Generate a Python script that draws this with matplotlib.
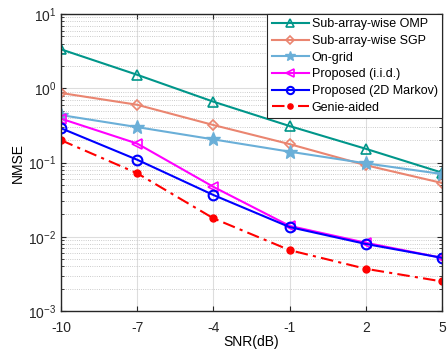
import matplotlib.pyplot as plt
import numpy as np

plt.rcParams.update({"font.family": ["Liberation Sans", "DejaVu Sans"]})
plt.rcParams.update({"font.size": 10})

snr = [-10, -7, -4, -1, 2, 5]
omp = [3.35, 1.52, 0.66, 0.31, 0.153, 0.073]
sgp = [0.865, 0.60, 0.32, 0.177, 0.092, 0.053]
ongrid = [0.436, 0.30, 0.205, 0.14, 0.0975, 0.070]
prop_iid = [0.39, 0.18, 0.047, 0.014, 0.0083, 0.0052]
prop_markov = [0.29, 0.109, 0.0365, 0.0135, 0.0080, 0.0052]
genie = [0.20, 0.0716, 0.0177, 0.0066, 0.0037, 0.0025]

fig = plt.figure(figsize=(4.47, 3.52), dpi=100)
ax = fig.add_axes([0.1365, 0.1165, 0.8525, 0.8435])

ax.semilogy(snr, omp, "-^", color="#00968a", lw=1.5, ms=7, mfc="none", mew=1.2,
            label="Sub-array-wise OMP")
ax.semilogy(snr, sgp, "-D", color="#ea8570", lw=1.5, ms=5.5, mfc="none", mew=1.2,
            label="Sub-array-wise SGP")
ax.semilogy(snr, ongrid, "-*", color="#6aafd8", lw=1.5, ms=10, mew=1.0,
            label="On-grid")
ax.semilogy(snr, prop_iid, "-<", color="#ff00ff", lw=1.5, ms=7, mfc="none", mew=1.2,
            label="Proposed (i.i.d.)")
ax.semilogy(snr, prop_markov, "-o", color="#0000ff", lw=1.5, ms=7, mfc="none", mew=1.5,
            label="Proposed (2D Markov)")
ax.semilogy(snr, genie, "-.o", color="#ff0000", lw=1.5, ms=5, mfc="#ff0000",
            dashes=(6, 2.5, 1.5, 2.5), label="Genie-aided")

ax.set_xlim(-10, 5)
ax.set_ylim(1e-3, 1e1)
ax.set_xticks(snr)
ax.set_xticklabels([str(s) for s in snr])
ax.set_xlabel("SNR(dB)", labelpad=0)
ax.set_ylabel("NMSE", labelpad=2)

ax.grid(True, which="major", color="#dddddd", ls="-", lw=0.8)
ax.grid(True, which="minor", axis="y", color="#bbbbbb", ls=":", lw=0.6)
ax.tick_params(which="both", direction="in", top=True, right=True, colors="#262626")
ax.tick_params(axis="x", pad=7)
for s in ax.spines.values():
    s.set_color("#262626")
    s.set_linewidth(1.0)

leg = ax.legend(loc="upper right", fontsize=9, fancybox=False, framealpha=1,
                edgecolor="#262626", borderpad=0.35, labelspacing=0.37,
                handlelength=3.0, handletextpad=0.2, borderaxespad=0.0,
                markerscale=0.75)
leg.get_frame().set_linewidth(0.8)

fig.savefig("out.png", dpi=100)
